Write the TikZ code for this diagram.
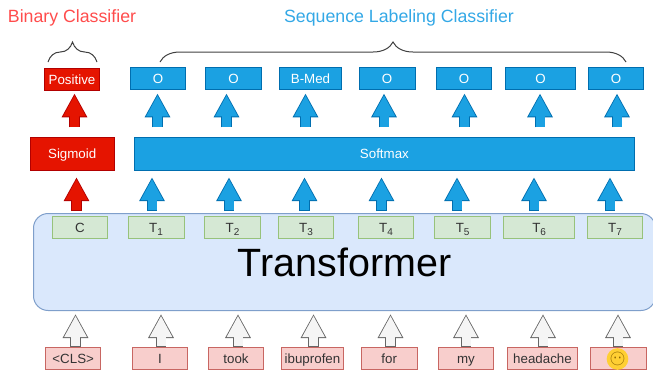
\documentclass[tikz,border=0pt]{standalone}
\usepackage{fontspec}
\setmainfont{Liberation Sans}
\newfontfamily\emojifont{Noto Emoji}
\usetikzlibrary{arrows.meta,decorations.pathreplacing}
\definecolor{redfill}{HTML}{E51400}
\definecolor{redline}{HTML}{B20000}
\definecolor{bluefill}{HTML}{1BA1E2}
\definecolor{blueline}{HTML}{006EAF}
\definecolor{greenfill}{HTML}{D5E8D4}
\definecolor{greenline}{HTML}{97C27B}
\definecolor{pinkfill}{HTML}{F8CECC}
\definecolor{pinkline}{HTML}{C86662}
\definecolor{tfmfill}{HTML}{DAE8FC}
\definecolor{tfmline}{HTML}{7F9FCB}
\definecolor{greyfill}{HTML}{F5F5F5}
\definecolor{greyline}{HTML}{666666}
\definecolor{bintitle}{HTML}{FF4C4C}
\definecolor{seqtitle}{HTML}{33A8E6}
\definecolor{emojiyellow}{HTML}{FFCF33}
\definecolor{emojidark}{HTML}{8A6200}
\newcommand{\tsub}[1]{\raisebox{-2.2pt}{\fontsize{7.5}{8}\selectfont #1}}
\begin{document}
\begin{tikzpicture}[
        x=0.75pt, y=-0.75pt,
        box/.style={draw, line width=0.75pt, minimum height=17pt, inner sep=0pt, text height=8pt, text depth=0.8pt, font=\fontsize{10}{12}\selectfont, text=#1},
        redbox/.style={box=white, fill=redfill, draw=redline},
        bluebox/.style={box=white, fill=bluefill, draw=blueline},
        greenbox/.style={box=black!80, fill=greenfill, draw=greenline},
        pinkbox/.style={box=black!80, fill=pinkfill, draw=pinkline},
        blockar/.style n args={4}{
            draw=#1, line width=6.75pt,
            -{Triangle[width=15.8pt, length=16pt, color=#1]},
            shorten <=#3+0.6pt, shorten >=#4+1.26pt,
            preaction={draw=#2, line width=7.9pt,
                -{Triangle[width=18pt, length=18pt, color=#2]},
                shorten <=#3, shorten >=#4}},
        bracket/.style={draw=black!75, line width=0.75pt,
            decorate, decoration={brace, amplitude=15pt}},
    ]
    \useasboundingbox (0,0) rectangle (653,369);

    \node[text=bintitle, font=\fontsize{13.3}{16}\selectfont](binary) at (72,18) {Binary Classifier};
    \node[text=seqtitle, font=\fontsize{13.3}{16}\selectfont](seq) at (399,18) {Sequence Labeling Classifier};

    % transformer body runs off the right edge
    \node[draw=tfmline, fill=tfmfill, line width=0.75pt, rounded corners=11pt, minimum width=466.5pt, minimum height=72.75pt, inner sep=0pt, anchor=north west](body) at (33,213) {};
    \node[font=\fontsize{29.6}{34}\selectfont](tfm) at (344.5,262) {Transformer};

    % outputs
    \node[redbox, minimum width=41.5pt](pos) at (72,79.5) {Positive};
    \foreach \name/\x/\w/\txt in {o1/158/41.5/O, o2/233.5/42/O, o3/310.5/47/B-Med, o4/387/42/O, o5/464/41.5/O, o6/540.5/52/O, o7/616/41.5/O}
        \node[bluebox, minimum width=\w pt](\name) at (\x,78.5) {\txt};

    \node[redbox, minimum width=63pt, minimum height=25pt](sig) at (72.2,154) {Sigmoid};
    \node[bluebox, minimum width=375pt, minimum height=25pt](soft) at (384.4,154) {Softmax};

    % transformer outputs
    \node[greenbox, minimum width=41.5pt](c) at (80,227.5) {C};
    \foreach \name/\x/\w/\i in {t1/156/42/1, t2/232.5/42/2, t3/306/41.5/3, t4/386/41.5/4, t5/462.7/42/5, t6/539.2/53/6, t7/615/41.5/7}
        \node[greenbox, minimum width=\w pt](\name) at (\x,227.5) {T\tsub{\i}};

    % inputs, cut off by the lower edge
    \node[pinkbox, minimum width=41.5pt](w0) at (73.2,358.5) {<CLS>};
    \foreach \name/\x/\w/\txt in {w1/160/41.5/I, w2/236/41.5/took, w3/312.5/46.5/ibuprofen, w4/389.2/42/for, w5/466/41.5/my, w6/542.5/52.5/headache}
        \node[pinkbox, minimum width=\w pt](\name) at (\x,358.5) {\txt};
    \node[pinkbox, minimum width=42pt](w7) at (618.5,358.5) {};
    \node[circle, fill=emojiyellow, minimum size=10.5pt, inner sep=0pt, text=emojidark, font=\emojifont\fontsize{10}{11}\selectfont](face) at (617.5,359) {\char"1F636};

    % arrows
    \draw[blockar={redfill}{redline}{7.1pt}{1.5pt}] (74.5,0 |- sig.north) -- (74.5,0 |- pos.south);
    \foreach \a/\x in {o1/157.5, o2/226.5, o3/305.5, o4/384, o5/464.5, o6/540, o7/617}
        \draw[blockar={bluefill}{blueline}{7.1pt}{2.25pt}] (\x,0 |- soft.north) -- (\x,0 |- \a.south);
    \draw[blockar={redfill}{redline}{3.4pt}{4.5pt}] (76.5,0 |- c.north) -- (76.5,0 |- sig.south);
    \foreach \a/\x in {t1/152, t2/229, t3/304.5, t4/381.5, t5/457, t6/534, t7/610}
        \draw[blockar={bluefill}{blueline}{3.4pt}{4.5pt}] (\x,0 |- \a.north) -- (\x,0 |- soft.south);
    \foreach \a/\x in {w0/75.5, w1/161, w2/238, w3/313.5, w4/390.5, w5/466, w6/543, w7/618}
        \draw[blockar={greyfill}{greyline}{0pt}{2.25pt}] (\x,0 |- \a.north) -- (\x,0 |- body.south);

    % braces
    \coordinate (bl) at (48,62);
    \coordinate (br) at (97,62);
    \coordinate (sl) at (160,62);
    \coordinate (sr) at (626,62);
    \path[bracket] (bl) -- (br);
    \path[bracket] (sl) -- (sr);
    \end{tikzpicture}
\end{document}
